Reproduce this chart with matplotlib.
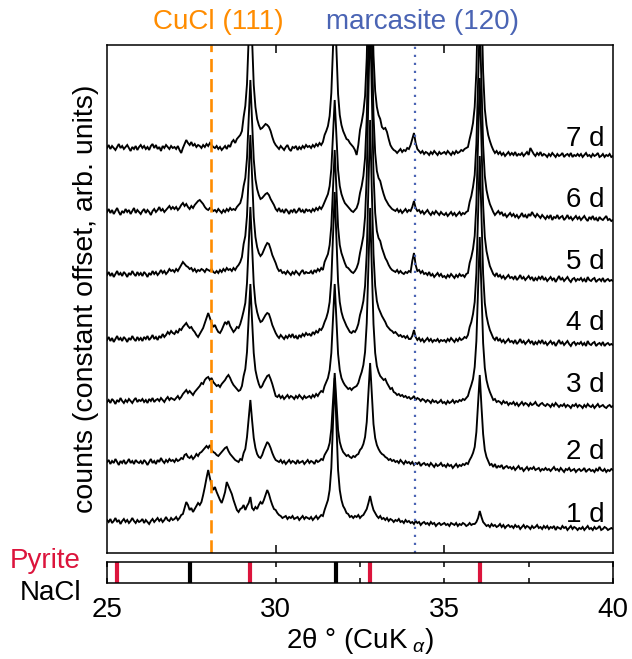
import numpy as np
import matplotlib
matplotlib.use('Agg')
import matplotlib.pyplot as plt

plt.rcParams['font.family'] = ['Liberation Sans', 'DejaVu Sans']
plt.rcParams['mathtext.fontset'] = 'custom'
plt.rcParams['mathtext.rm'] = 'Liberation Sans'
plt.rcParams['mathtext.it'] = 'Liberation Sans:italic'

# ---------------- data ----------------
two_theta = np.round(25.0 + 0.05 * np.arange(301), 2)   # 2theta sampling grid (deg)
day_labels = ['1 d', '2 d', '3 d', '4 d', '5 d', '6 d', '7 d']
offsets = [23, 81, 145, 207, 270, 332, 396]          # constant offsets (arb.)

counts_1d = [
    10, 8, 11, 7, 9, 12, 8, 10, 6, 9, 11, 8, 10, 7, 9, 12, 9, 7, 10, 8,
    9, 11, 7, 10, 8, 6, 9, 11, 8, 10, 12, 9, 11, 8, 10, 13, 10, 9, 12, 10,
    11, 13, 10, 12, 15, 16, 22, 28, 25, 20, 22, 18, 21, 24, 27, 25, 28, 35, 43, 52,
    60, 52, 45, 40, 43, 38, 34, 30, 27, 32, 38, 48, 44, 40, 36, 30, 25, 20, 18, 21,
    22, 25, 20, 24, 27, 33, 22, 20, 23, 21, 25, 28, 26, 30, 35, 40, 36, 30, 25, 21,
    20, 17, 15, 14, 12, 13, 14, 11, 13, 12, 14, 11, 12, 13, 10, 12, 14, 11, 13, 12,
    11, 13, 10, 12, 14, 11, 13, 15, 14, 20, 25, 30, 40, 62, 107, 152, 105, 60, 40, 30,
    24, 21, 17, 16, 13, 14, 12, 14, 13, 15, 12, 14, 15, 18, 21, 27, 34, 26, 20, 17,
    14, 12, 14, 11, 12, 10, 12, 9, 11, 10, 8, 10, 9, 11, 8, 9, 7, 10, 8, 9,
    7, 8, 6, 9, 7, 8, 5, 7, 8, 6, 7, 5, 8, 6, 7, 4, 6, 7, 5, 6,
    7, 5, 6, 4, 7, 6, 5, 7, 4, 6, 5, 7, 6, 4, 5, 7, 5, 6, 6, 8,
    12, 19, 13, 8, 6, 4, 5, 3, 6, 4, 5, 3, 4, 6, 3, 5, 2, 4, 5, 3,
    4, 2, 5, 3, 4, 1, 3, 5, 2, 4, 3, 1, 4, 2, 3, 5, 2, 3, 1, 4,
    2, 4, 1, 3, 2, 4, 0, 3, 2, 1, 4, 2, 3, 0, 2, 4, 1, 3, 2, 0,
    2, 1, 3, 0, 2, 4, 1, 2, 0, 3, 1, 2, 4, 0, 1, 3, 2, 0, 1, 2,
    1]

counts_2d = [
    10, 12, 8, 11, 9, 13, 10, 7, 11, 9, 12, 8, 10, 13, 9, 11, 8, 12, 10, 9,
    11, 8, 12, 10, 7, 10, 13, 9, 11, 8, 12, 10, 14, 11, 9, 12, 10, 13, 11, 12,
    10, 13, 11, 12, 14, 13, 17, 18, 15, 14, 16, 13, 15, 18, 16, 19, 20, 22, 24, 26,
    24, 27, 22, 20, 19, 17, 16, 18, 20, 22, 24, 25, 21, 18, 16, 14, 12, 11, 10, 13,
    12, 19, 23, 35, 54, 72, 52, 34, 24, 18, 15, 14, 17, 22, 26, 30, 28, 24, 19, 15,
    12, 11, 10, 12, 9, 11, 8, 10, 12, 9, 11, 10, 8, 12, 9, 10, 11, 8, 10, 12,
    9, 11, 10, 8, 12, 10, 11, 13, 12, 17, 20, 23, 29, 43, 71, 99, 70, 42, 30, 24,
    20, 18, 16, 17, 15, 14, 16, 15, 17, 18, 22, 24, 28, 35, 50, 80, 109, 78, 48, 34,
    27, 23, 20, 18, 17, 15, 14, 12, 13, 11, 12, 10, 11, 9, 12, 10, 8, 11, 9, 10,
    8, 10, 7, 9, 8, 10, 6, 8, 9, 7, 8, 6, 9, 7, 5, 8, 6, 7, 9, 6,
    7, 5, 8, 6, 7, 4, 6, 8, 5, 7, 6, 8, 7, 9, 8, 12, 15, 19, 25, 40,
    68, 97, 66, 38, 22, 15, 11, 7, 8, 5, 8, 4, 6, 5, 7, 3, 5, 6, 4, 5,
    3, 5, 2, 4, 6, 3, 4, 1, 3, 5, 2, 4, 3, 5, 2, 3, 4, 1, 3, 2,
    4, 2, 3, 1, 3, 5, 2, 3, 1, 4, 2, 0, 3, 2, 4, 1, 2, 3, 0, 2,
    3, 1, 2, 4, 0, 2, 3, 1, 2, 0, 3, 1, 5, 2, 1, 3, 0, 2, 1, 3,
    2]

counts_3d = [
    6, 8, 5, 9, 7, 4, 8, 6, 10, 7, 5, 8, 6, 9, 7, 5, 8, 10, 6, 8,
    7, 9, 6, 8, 5, 9, 7, 10, 6, 8, 9, 7, 10, 8, 6, 9, 11, 8, 10, 9,
    8, 10, 12, 9, 11, 14, 16, 18, 15, 17, 15, 13, 16, 18, 20, 22, 25, 24, 28, 30,
    31, 28, 30, 26, 24, 22, 23, 21, 24, 26, 28, 31, 33, 30, 26, 23, 21, 19, 17, 18,
    22, 32, 39, 56, 90, 124, 88, 55, 38, 30, 24, 20, 22, 26, 29, 32, 33, 29, 24, 18,
    12, 11, 13, 10, 12, 9, 11, 13, 10, 12, 11, 9, 12, 10, 13, 11, 9, 12, 10, 11,
    12, 10, 13, 11, 14, 12, 15, 17, 16, 22, 26, 30, 38, 55, 90, 124, 88, 54, 38, 30,
    26, 23, 21, 19, 20, 18, 20, 21, 22, 25, 31, 36, 43, 56, 85, 142, 200, 140, 84, 55,
    42, 36, 32, 30, 28, 29, 25, 22, 19, 20, 16, 15, 13, 14, 12, 13, 11, 12, 10, 11,
    9, 10, 12, 8, 10, 9, 7, 9, 8, 6, 8, 7, 5, 8, 6, 7, 5, 6, 8, 5,
    6, 4, 7, 5, 6, 8, 5, 7, 6, 8, 7, 9, 8, 10, 12, 18, 23, 29, 41, 67,
    119, 171, 117, 65, 40, 28, 21, 16, 12, 8, 9, 6, 7, 6, 4, 7, 5, 6, 3, 5,
    4, 6, 3, 5, 2, 4, 6, 3, 5, 4, 2, 5, 3, 4, 6, 3, 2, 4, 5, 3,
    2, 4, 3, 1, 4, 2, 5, 3, 1, 3, 2, 4, 1, 3, 2, 0, 3, 2, 4, 1,
    3, 2, 0, 3, 1, 4, 2, 1, 3, 0, 2, 4, 1, 2, 3, 1, 0, 2, 3, 1,
    2]

counts_4d = [
    6, 9, 5, 8, 4, 7, 10, 6, 8, 5, 9, 7, 4, 8, 6, 10, 7, 5, 9, 6,
    8, 5, 9, 7, 10, 6, 8, 11, 7, 9, 6, 10, 8, 12, 9, 11, 14, 12, 15, 13,
    12, 15, 13, 17, 16, 19, 21, 23, 20, 18, 19, 16, 14, 11, 9, 12, 15, 18, 23, 28,
    33, 28, 23, 19, 21, 17, 14, 13, 16, 20, 24, 22, 25, 20, 17, 14, 16, 19, 18, 22,
    28, 35, 43, 63, 101, 139, 100, 62, 43, 34, 28, 24, 25, 28, 31, 33, 32, 27, 21, 17,
    13, 10, 8, 11, 9, 7, 10, 8, 11, 9, 12, 8, 10, 7, 11, 9, 12, 10, 13, 11,
    12, 10, 14, 12, 15, 13, 17, 16, 19, 24, 28, 34, 44, 66, 110, 154, 108, 64, 44, 34,
    28, 24, 20, 17, 14, 13, 15, 14, 17, 22, 31, 37, 45, 60, 93, 159, 226, 156, 92, 60,
    45, 38, 34, 30, 27, 24, 20, 18, 16, 15, 13, 14, 12, 10, 11, 9, 10, 8, 10, 7,
    7, 10, 16, 9, 6, 8, 5, 7, 4, 6, 8, 5, 7, 4, 6, 5, 7, 4, 6, 5,
    6, 4, 7, 5, 8, 6, 4, 7, 5, 8, 6, 7, 9, 8, 11, 19, 24, 32, 44, 73,
    132, 190, 130, 72, 43, 30, 22, 16, 12, 8, 6, 9, 5, 7, 4, 6, 3, 5, 7, 4,
    5, 3, 6, 2, 4, 7, 3, 5, 2, 4, 6, 3, 5, 1, 4, 2, 5, 3, 6, 2,
    4, 1, 3, 5, 2, 4, 0, 3, 6, 2, 4, 1, 3, 5, 2, 0, 3, 4, 1, 3,
    2, 4, 1, 3, 0, 5, 2, 1, 3, 4, 0, 2, 3, 1, 4, 0, 2, 3, 1, 2,
    1]

counts_5d = [
    8, 11, 7, 10, 6, 9, 12, 8, 10, 7, 11, 9, 6, 10, 8, 12, 9, 7, 11, 8,
    10, 7, 11, 9, 6, 10, 8, 12, 9, 11, 8, 10, 13, 10, 12, 9, 11, 14, 12, 13,
    11, 14, 12, 15, 18, 21, 19, 17, 16, 14, 15, 12, 14, 11, 13, 12, 14, 13, 11, 14,
    13, 12, 14, 11, 10, 12, 10, 13, 11, 14, 12, 15, 13, 14, 12, 15, 13, 16, 18, 21,
    26, 39, 47, 67, 108, 148, 106, 66, 46, 36, 30, 27, 29, 33, 37, 40, 39, 34, 28, 24,
    20, 15, 12, 13, 10, 11, 9, 12, 10, 8, 11, 9, 12, 10, 8, 11, 13, 9, 11, 10,
    10, 12, 9, 13, 11, 14, 12, 15, 13, 21, 25, 29, 38, 57, 95, 133, 94, 56, 38, 30,
    25, 20, 16, 15, 13, 11, 10, 12, 15, 20, 30, 38, 47, 66, 107, 188, 270, 190, 110, 70,
    52, 45, 42, 35, 30, 25, 22, 18, 15, 13, 12, 11, 13, 10, 12, 10, 9, 11, 10, 12,
    11, 22, 30, 18, 12, 13, 10, 12, 9, 10, 8, 11, 7, 9, 6, 8, 10, 7, 9, 6,
    7, 5, 8, 6, 9, 7, 5, 8, 6, 9, 7, 8, 6, 9, 10, 20, 26, 34, 47, 79,
    142, 205, 140, 78, 46, 32, 24, 17, 13, 9, 7, 10, 6, 8, 5, 7, 4, 6, 8, 5,
    6, 4, 7, 3, 5, 8, 4, 6, 3, 5, 7, 4, 6, 2, 5, 3, 6, 4, 7, 3,
    5, 2, 4, 6, 3, 5, 1, 4, 7, 3, 5, 2, 4, 6, 3, 1, 4, 5, 2, 4,
    3, 5, 2, 4, 1, 6, 3, 2, 4, 5, 1, 3, 4, 2, 5, 1, 3, 4, 2, 3,
    2]

counts_6d = [
    9, 12, 8, 11, 7, 10, 13, 9, 6, 10, 8, 12, 9, 11, 7, 10, 13, 8, 11, 9,
    7, 10, 12, 8, 11, 9, 6, 10, 12, 9, 11, 14, 10, 12, 9, 11, 13, 15, 12, 14,
    12, 14, 11, 13, 16, 18, 15, 17, 14, 12, 15, 13, 16, 18, 20, 21, 19, 17, 14, 12,
    11, 13, 12, 10, 11, 9, 12, 10, 8, 11, 9, 12, 10, 13, 11, 12, 11, 14, 16, 18,
    24, 35, 43, 63, 102, 141, 100, 62, 42, 32, 26, 22, 23, 25, 27, 28, 26, 22, 19, 16,
    12, 10, 13, 9, 11, 8, 12, 10, 7, 11, 9, 12, 8, 10, 13, 9, 11, 8, 12, 10,
    11, 9, 12, 10, 13, 11, 14, 12, 15, 19, 23, 27, 35, 52, 86, 121, 85, 51, 35, 27,
    22, 18, 16, 14, 12, 10, 9, 11, 13, 18, 28, 35, 45, 63, 103, 181, 260, 183, 106, 68,
    50, 43, 40, 33, 27, 22, 19, 16, 14, 12, 11, 10, 12, 9, 11, 8, 10, 12, 9, 11,
    10, 14, 20, 13, 10, 11, 8, 10, 7, 9, 11, 8, 6, 9, 7, 10, 8, 6, 9, 7,
    6, 8, 5, 7, 9, 6, 8, 5, 7, 9, 6, 8, 7, 9, 10, 19, 25, 34, 46, 77,
    138, 200, 137, 76, 45, 31, 23, 17, 13, 9, 6, 8, 10, 7, 9, 5, 7, 4, 6, 8,
    5, 7, 4, 6, 3, 5, 8, 4, 6, 3, 7, 5, 9, 6, 4, 7, 5, 3, 6, 4,
    2, 5, 3, 6, 1, 4, 3, 6, 2, 4, 5, 1, 3, 6, 2, 4, 1, 3, 5, 2,
    4, 1, 3, 5, 2, 0, 4, 2, 5, 1, 3, 0, 4, 2, 1, 3, 5, 1, 2, 0,
    1]

counts_7d = [
    9, 12, 8, 11, 9, 7, 10, 13, 9, 11, 8, 10, 12, 9, 6, 10, 8, 11, 7, 10,
    12, 9, 11, 8, 10, 7, 11, 13, 9, 12, 8, 10, 6, 11, 9, 12, 10, 8, 11, 9,
    10, 8, 11, 7, 4, 9, 13, 17, 14, 12, 15, 11, 13, 10, 12, 11, 9, 12, 10, 13,
    11, 14, 12, 10, 9, 11, 8, 10, 7, 9, 11, 8, 12, 10, 15, 17, 14, 18, 20, 22,
    26, 40, 51, 73, 119, 165, 118, 72, 50, 38, 32, 28, 29, 31, 33, 32, 30, 26, 20, 15,
    12, 10, 8, 11, 9, 7, 10, 12, 8, 6, 10, 9, 11, 7, 10, 8, 11, 9, 12, 10,
    11, 9, 12, 10, 13, 11, 14, 12, 15, 22, 26, 31, 41, 64, 110, 155, 108, 63, 42, 32,
    26, 22, 18, 17, 14, 12, 10, 7, 2, 12, 27, 35, 45, 61, 99, 174, 250, 176, 102, 66,
    50, 42, 38, 30, 28, 29, 25, 18, 12, 9, 7, 6, 4, 6, 8, 5, 7, 6, 9, 8,
    12, 18, 24, 14, 8, 6, 4, 6, 3, 5, 4, 2, 5, 3, 6, 4, 2, 5, 3, 4,
    5, 3, 6, 4, 2, 5, 3, 6, 4, 5, 7, 6, 8, 9, 10, 18, 25, 34, 50, 86,
    158, 230, 156, 85, 48, 32, 22, 16, 11, 7, 4, 6, 3, 5, 2, 4, 1, 3, 5, 2,
    4, 2, 5, 1, 3, 2, 4, 1, 3, 5, 2, 9, 6, 3, 1, 4, 2, 5, 1, 3,
    2, 0, 3, 1, 4, 2, 0, 3, 1, 2, 4, 0, 2, 3, 1, 4, 0, 2, 1, 3,
    1, 3, 0, 2, 4, 1, 2, 0, 3, 1, 2, 4, 0, 1, 3, 0, 2, 1, 3, 0,
    1]

traces = [counts_1d, counts_2d, counts_3d, counts_4d, counts_5d, counts_6d, counts_7d]

pyrite_2theta = [25.3, 29.25, 32.8, 36.05]
nacl_2theta = [27.45, 31.8]
cucl_111 = 28.07
marcasite_120 = 34.12
x_ticks = [25, 30, 35, 40]
x_minor = [27.5, 32.5, 37.5]

# ---------------- layout ----------------
W, H = 632, 659
fig = plt.figure(figsize=(W / 100, H / 100), dpi=100)

def fx(px):
    return px / W

def fy(py):
    return 1 - py / H

ax_left, ax_right = 107, 613
main_top, main_bot = 45, 553
ax = fig.add_axes([fx(ax_left), fy(main_bot), (ax_right - ax_left) / W, (main_bot - main_top) / H])
ax.set_xlim(25, 40)
ax.set_ylim(0, main_bot - main_top)

for c, off in zip(traces, offsets):
    if len(c) != len(two_theta):
        raise ValueError(f"length mismatch {len(c)}")
    ax.plot(two_theta, np.asarray(c) + off, color='black', lw=1.35, solid_joinstyle='miter')

ax.axvline(cucl_111, color='#ff8c00', lw=1.9, ls=(0, (5, 2.6)))
ax.axvline(marcasite_120, color='#4a64b4', lw=1.6, ls=(0, (1, 2.6)))

# day labels (pixel rows of text centres)
label_rows = [515, 452, 385, 323, 262, 200, 139]
for lab, py in zip(day_labels, label_rows):
    ax.text(39.75, main_bot - py, lab, ha='right', va='center', fontsize=20)

ax.set_xticks([30, 35])
ax.set_yticks([])
ax.tick_params(axis='x', direction='in', top=True, bottom=True, length=6, width=1.1,
               labelbottom=False)
for s in ax.spines.values():
    s.set_linewidth(1.1)

ax.set_ylabel('counts (constant offset, arb. units)', fontsize=20.5, labelpad=6)

# reference strip
strip_top, strip_bot = 562, 583
ax2 = fig.add_axes([fx(ax_left), fy(strip_bot), (ax_right - ax_left) / W, (strip_bot - strip_top) / H])
ax2.set_xlim(25, 40)
ax2.set_ylim(0, 1)
ax2.vlines(pyrite_2theta, 0, 1, color='#dc143c', lw=3)
ax2.vlines(nacl_2theta, 0, 1, color='black', lw=3)
ax2.set_yticks([])
ax2.set_xticks(x_ticks)
ax2.set_xticks(x_minor, minor=True)
ax2.tick_params(axis='x', which='both', direction='in', top=True, bottom=True,
                length=3.5, width=1.1, labelsize=20, pad=10)
for s in ax2.spines.values():
    s.set_linewidth(1.1)
ax2.set_xlabel(r'2θ ° (CuK$_{\ \alpha}$)', fontsize=20, labelpad=2)

fig.text(fx(81), fy(561), 'Pyrite', color='#dc143c', fontsize=20, ha='right', va='center')
fig.text(fx(81), fy(593), 'NaCl', color='black', fontsize=20, ha='right', va='center')

fig.text(fx(218), fy(22), 'CuCl (111)', color='#ff8c00', fontsize=20, ha='center', va='center')
fig.text(fx(422), fy(22), 'marcasite (120)', color='#4a64b4', fontsize=20, ha='center', va='center')

fig.savefig('out.png', dpi=100)
